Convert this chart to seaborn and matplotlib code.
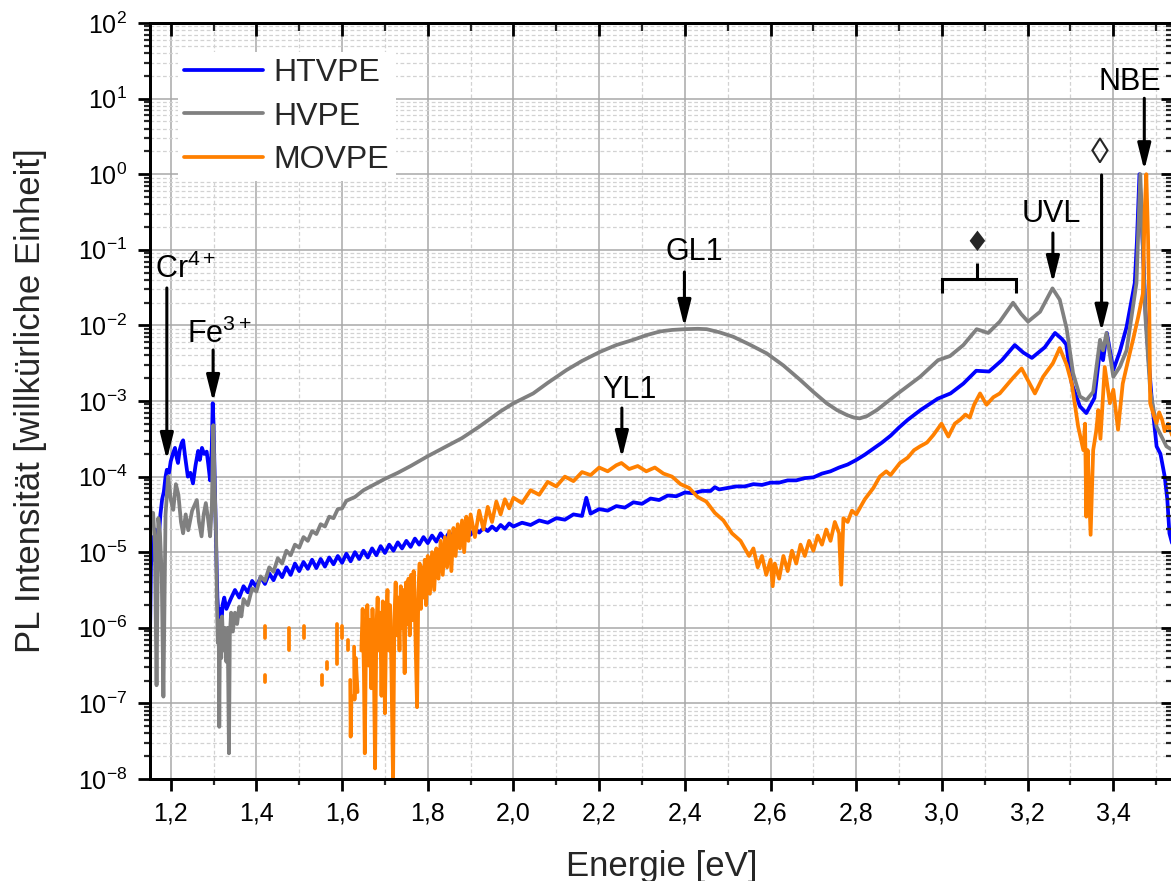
import numpy as np
import pandas as pd
import seaborn as sns
import matplotlib
matplotlib.use("Agg")
import matplotlib.pyplot as plt
from matplotlib.ticker import MultipleLocator, LogLocator, FuncFormatter, NullFormatter
from matplotlib.lines import Line2D

##  Theme first, fonts after (set_theme resets font.family)
sns.set_theme(style="ticks")
plt.rcParams['font.family'] = ['Liberation Sans', 'DejaVu Sans']
plt.rcParams['mathtext.fontset'] = 'custom'
plt.rcParams['mathtext.rm'] = 'Liberation Sans'
plt.rcParams['mathtext.it'] = 'Liberation Sans:italic'
plt.rcParams['mathtext.default'] = 'regular'

#%%
##  Data (energy in eV, log10 of PL intensity)

#  HTVPE (blue)
htvpe_e = [1.150, 1.152, 1.154, 1.157, 1.160, 1.164, 1.168, 1.172, 1.176, 1.180,
           1.184, 1.188, 1.191, 1.196, 1.200, 1.205, 1.210, 1.214, 1.217, 1.221,
           1.226, 1.229, 1.234, 1.240, 1.246, 1.252, 1.258, 1.264, 1.268, 1.273,
           1.278, 1.284, 1.288, 1.292, 1.296, 1.298, 1.300, 1.303, 1.306, 1.309,
           1.312, 1.315, 1.318, 1.321, 1.325, 1.330,
           1.34, 1.35, 1.36, 1.37, 1.38, 1.39, 1.40, 1.41, 1.42, 1.43,
           1.44, 1.45, 1.46, 1.47, 1.48, 1.49, 1.50, 1.51, 1.52, 1.53,
           1.54, 1.55, 1.56, 1.57, 1.58, 1.59, 1.60, 1.61, 1.62, 1.63,
           1.64, 1.65, 1.66, 1.67, 1.68, 1.69, 1.70, 1.71, 1.72, 1.73,
           1.74, 1.75, 1.76, 1.77, 1.78, 1.79, 1.80, 1.81, 1.82, 1.83,
           1.84, 1.85, 1.86, 1.87, 1.88, 1.89, 1.90, 1.91, 1.92, 1.93,
           1.94, 1.95, 1.96, 1.97, 1.98, 1.99, 2.00,
           2.02, 2.04, 2.06, 2.08, 2.10, 2.12, 2.14, 2.16, 2.17, 2.18,
           2.20, 2.22, 2.24, 2.26, 2.28, 2.30, 2.32, 2.34, 2.36, 2.38,
           2.40, 2.42, 2.44, 2.46, 2.47, 2.48, 2.50, 2.52, 2.54, 2.56,
           2.58, 2.60, 2.62, 2.64, 2.66, 2.68, 2.70, 2.72, 2.74, 2.76,
           2.78, 2.80, 2.82, 2.84, 2.86, 2.88, 2.90, 2.92, 2.95, 2.99,
           3.02, 3.05, 3.08, 3.11, 3.14, 3.17, 3.19, 3.21, 3.24, 3.264,
           3.28, 3.29, 3.303, 3.322, 3.337, 3.356, 3.369, 3.376, 3.385, 3.400,
           3.415, 3.431, 3.450, 3.455, 3.461, 3.467, 3.475, 3.483, 3.490, 3.501,
           3.510, 3.520, 3.526, 3.531, 3.538]
htvpe_log = [-5.40, -6.00, -5.20, -4.80, -5.10, -4.70, -4.90, -4.84, -4.50, -4.30,
             -4.20, -4.00, -3.91, -3.95, -3.80, -3.70, -3.62, -3.75, -3.82, -3.65,
             -3.55, -3.52, -3.75, -4.00, -3.95, -4.09, -3.85, -3.66, -3.78, -3.62,
             -3.70, -3.67, -3.85, -4.05, -3.60, -3.03, -3.30, -4.09, -4.90, -5.60,
             -5.90, -5.75, -6.00, -5.70, -5.60, -5.75,
             -5.62, -5.50, -5.60, -5.45, -5.53, -5.38, -5.46, -5.33, -5.42, -5.28,
             -5.37, -5.24, -5.33, -5.20, -5.30, -5.15, -5.25, -5.13, -5.22, -5.10,
             -5.21, -5.09, -5.19, -5.07, -5.16, -5.05, -5.14, -5.02, -5.12, -5.00,
             -5.09, -4.98, -5.07, -4.95, -5.04, -4.92, -5.01, -4.90, -4.98, -4.87,
             -4.95, -4.85, -4.93, -4.82, -4.90, -4.80, -4.88, -4.78, -4.86, -4.75,
             -4.83, -4.74, -4.81, -4.72, -4.79, -4.70, -4.77, -4.69, -4.74, -4.68,
             -4.72, -4.66, -4.71, -4.64, -4.69, -4.62, -4.66,
             -4.61, -4.64, -4.58, -4.61, -4.55, -4.57, -4.50, -4.52, -4.28, -4.49,
             -4.43, -4.45, -4.39, -4.41, -4.34, -4.36, -4.29, -4.31, -4.25, -4.26,
             -4.21, -4.22, -4.19, -4.19, -4.14, -4.17, -4.15, -4.13, -4.13, -4.10,
             -4.11, -4.08, -4.08, -4.05, -4.05, -4.02, -4.01, -3.96, -3.93, -3.88,
             -3.84, -3.78, -3.71, -3.63, -3.55, -3.46, -3.35, -3.25, -3.12, -2.97,
             -2.90, -2.77, -2.60, -2.61, -2.46, -2.26, -2.36, -2.43, -2.29, -2.10,
             -2.18, -2.25, -2.77, -3.07, -3.16, -2.96, -2.32, -2.46, -2.10, -2.59,
             -2.35, -2.02, -1.44, -0.90, 0.00, -0.70, -1.80, -2.50, -3.00, -3.60,
             -3.70, -4.00, -4.30, -4.75, -4.90]

#  HVPE (grey)
hvpe_e = [1.150, 1.155, 1.159, 1.163, 1.167, 1.171, 1.175, 1.179, 1.183, 1.188,
          1.194, 1.200, 1.206, 1.212, 1.218, 1.224, 1.229, 1.235, 1.241, 1.250,
          1.261, 1.266, 1.272, 1.277, 1.282, 1.287, 1.292, 1.296, 1.2995, 1.303,
          1.306, 1.308, 1.310, 1.312, 1.3134, 1.315, 1.318, 1.320, 1.323, 1.326,
          1.330, 1.333, 1.336, 1.338, 1.341, 1.345,
          1.35, 1.355, 1.36, 1.365, 1.37, 1.38, 1.39, 1.40, 1.41, 1.42,
          1.43, 1.44, 1.45, 1.46, 1.47, 1.48, 1.49, 1.50, 1.51, 1.52,
          1.53, 1.54, 1.55, 1.56, 1.57, 1.58, 1.59, 1.60, 1.61, 1.63,
          1.65, 1.68, 1.70, 1.73, 1.76, 1.80, 1.84, 1.88, 1.92, 1.969,
          2.00, 2.046, 2.08, 2.124, 2.16, 2.202, 2.24, 2.28, 2.31, 2.342,
          2.37, 2.40, 2.43, 2.451, 2.48, 2.513, 2.55, 2.591, 2.63, 2.669,
          2.70, 2.731, 2.755, 2.778, 2.795, 2.808, 2.825, 2.848, 2.875, 2.902,
          2.949, 2.991, 3.019, 3.050, 3.081, 3.108, 3.135, 3.166, 3.185, 3.201,
          3.229, 3.258, 3.275, 3.291, 3.306, 3.322, 3.337, 3.353, 3.369, 3.376,
          3.384, 3.400, 3.415, 3.431, 3.446, 3.454, 3.458, 3.463, 3.468, 3.475,
          3.486, 3.501, 3.515, 3.524, 3.538]
hvpe_log = [-4.22, -4.60, -4.48, -4.90, -6.76, -4.55, -4.75, -5.30, -6.91, -4.50,
            -4.00, -4.30, -4.44, -4.10, -4.24, -4.60, -4.75, -4.50, -4.71, -4.45,
            -4.31, -4.60, -4.79, -4.50, -4.35, -4.55, -4.79, -4.40, -3.32, -4.20,
            -4.79, -5.70, -6.20, -5.90, -7.31, -6.00, -6.40, -5.85, -6.30, -6.00,
            -6.45, -6.00, -7.66, -6.10, -5.80, -6.05,
            -5.80, -5.95, -5.72, -5.85, -5.62, -5.70, -5.48, -5.52, -5.32, -5.38,
            -5.20, -5.26, -5.08, -5.15, -4.98, -5.04, -4.90, -4.94, -4.80, -4.85,
            -4.72, -4.76, -4.63, -4.66, -4.53, -4.55, -4.43, -4.42, -4.32, -4.27,
            -4.18, -4.09, -4.03, -3.95, -3.86, -3.73, -3.61, -3.49, -3.34, -3.14,
            -3.03, -2.90, -2.76, -2.59, -2.47, -2.35, -2.26, -2.19, -2.13, -2.08,
            -2.06, -2.05, -2.045, -2.05, -2.09, -2.15, -2.25, -2.37, -2.53, -2.72,
            -2.88, -3.03, -3.12, -3.185, -3.22, -3.23, -3.20, -3.12, -3.00, -2.88,
            -2.68, -2.46, -2.405, -2.26, -2.05, -2.10, -1.95, -1.70, -1.85, -1.95,
            -1.82, -1.51, -1.66, -2.04, -2.63, -2.94, -2.99, -2.88, -2.19, -2.33,
            -2.10, -2.68, -2.55, -2.33, -1.75, -1.44, -0.80, 0.00, -0.80, -1.90,
            -2.85, -3.34, -3.50, -3.60, -3.65]

#  MOVPE (orange); nan separates pieces (negative counts are missing on log axis)
movpe_e = [1.420, 1.420, np.nan, 1.421, 1.421, np.nan, 1.476, 1.476, np.nan,
           1.511, 1.511, np.nan, 1.553, 1.553, np.nan, 1.565, 1.565, np.nan,
           1.588, 1.588, np.nan, 1.600, 1.600, np.nan, 1.614, 1.614, np.nan,
           1.619, 1.620, 1.622, np.nan, 1.628, 1.629, 1.632, 1.636, np.nan,
           1.645, 1.648, 1.651, 1.653, 1.656, 1.659, 1.662, 1.665, 1.668, 1.671,
           1.674, 1.677, 1.680, 1.683, 1.686, 1.689, 1.692, 1.695, 1.698, 1.700,
           1.703, 1.706, 1.709, 1.712, 1.715, 1.719, 1.722, 1.725, 1.728, 1.731,
           1.734, 1.737, 1.740, 1.743, 1.746, 1.749, 1.752, 1.755, 1.758, 1.761,
           1.764, 1.767, 1.770, 1.775, 1.778, 1.781, 1.784, 1.787, 1.790, 1.793,
           1.796, 1.800, 1.805, 1.810, 1.815, 1.820, 1.825, 1.830, 1.835, 1.840,
           1.845, 1.850, 1.855, 1.860, 1.865, 1.870, 1.875, 1.880, 1.885, 1.890,
           1.895, 1.90, 1.91, 1.92, 1.93, 1.94, 1.95, 1.96, 1.97, 1.98,
           1.99, 2.00, 2.02, 2.04, 2.06, 2.08, 2.10, 2.12, 2.14, 2.16,
           2.18, 2.20, 2.22, 2.24, 2.252, 2.27, 2.29, 2.31, 2.33, 2.35,
           2.37, 2.39, 2.41, 2.43, 2.45, 2.47, 2.49, 2.51, 2.53, 2.55,
           2.56, 2.57, 2.58, 2.59, 2.60, 2.605, 2.61, 2.62, 2.63, 2.64,
           2.65, 2.66, 2.67, 2.68, 2.69, 2.70, 2.71, 2.72, 2.73, 2.74,
           2.75, 2.76, 2.765, 2.77, 2.78, 2.79, 2.80, 2.82, 2.84, 2.855,
           2.87, 2.88, 2.902, 2.92, 2.935, 2.949, 2.965, 2.980, 2.999, 3.015,
           3.030, 3.042, 3.055, 3.065, 3.075, 3.089, 3.104, 3.120, 3.135, 3.150,
           3.165, 3.186, 3.200, 3.217, 3.236, 3.259, 3.275, 3.291, 3.303, 3.318,
           3.330, 3.334, 3.337, 3.340, 3.347, 3.353, 3.360, 3.365, 3.370, 3.380,
           3.392, 3.400, 3.411, 3.422, 3.435, 3.446, 3.458, 3.469, 3.473, 3.477,
           3.481, 3.484, 3.486, 3.495, 3.501, 3.507, 3.514, 3.520, 3.528, 3.538]
movpe_log = [-5.97, -6.14, np.nan, -6.62, -6.72, np.nan, -6.00, -6.29, np.nan,
             -5.97, -6.13, np.nan, -6.62, -6.75, np.nan, -6.45, -6.55, np.nan,
             -5.95, -6.48, np.nan, -5.97, -6.13, np.nan, -6.16, -6.29, np.nan,
             -6.69, -7.44, -6.90, np.nan, -6.25, -6.95, -6.40, -6.85, np.nan,
             -6.30, -5.75, -6.60, -7.66, -6.10, -5.70, -6.50, -5.90, -6.80, -5.75,
             -6.40, -7.86, -6.00, -5.60, -6.30, -5.80, -6.90, -5.65, -6.20, -7.13,
             -5.90, -5.50, -6.30, -5.70, -6.50, -8.05, -5.90, -5.40, -6.10, -5.60,
             -6.30, -5.45, -6.00, -5.50, -6.60, -5.40, -5.95, -5.35, -6.10, -5.30,
             -5.90, -5.25, -5.80, -7.05, -5.50, -5.15, -5.75, -5.20, -5.60, -5.10,
             -5.70, -5.05, -5.55, -5.00, -5.50, -4.95, -5.35, -4.85, -5.30, -4.80,
             -5.20, -4.72, -5.25, -4.68, -5.05, -4.63, -4.95, -4.58, -5.00, -4.53,
             -4.85, -4.50, -4.80, -4.45, -4.70, -4.40, -4.60, -4.33, -4.50, -4.30,
             -4.42, -4.28, -4.35, -4.18, -4.24, -4.07, -4.13, -4.00, -4.06, -3.94,
             -3.98, -3.88, -3.93, -3.85, -3.82, -3.90, -3.86, -3.93, -3.88, -3.96,
             -4.00, -4.10, -4.15, -4.27, -4.33, -4.48, -4.58, -4.75, -4.85, -5.05,
             -4.95, -5.20, -5.05, -5.30, -5.10, -5.45, -5.15, -5.35, -5.05, -5.25,
             -4.98, -5.15, -4.90, -5.05, -4.85, -4.98, -4.78, -4.90, -4.70, -4.85,
             -4.60, -4.75, -5.43, -4.55, -4.60, -4.45, -4.50, -4.30, -4.15, -4.00,
             -3.93, -3.98, -3.82, -3.75, -3.65, -3.60, -3.55, -3.45, -3.30, -3.47,
             -3.30, -3.25, -3.18, -3.22, -3.05, -2.90, -3.05, -2.95, -2.90, -2.80,
             -2.70, -2.57, -2.72, -2.90, -2.68, -2.50, -2.30, -2.52, -2.77, -3.34,
             -3.65, -3.30, -4.53, -3.65, -4.77, -3.65, -3.40, -3.12, -3.50, -2.55,
             -3.03, -2.85, -3.38, -2.77, -2.45, -2.19, -1.89, -1.58, -0.50, 0.00,
             -0.82, -1.80, -3.03, -3.20, -3.29, -3.15, -3.25, -3.40, -3.30, -3.47]

samples = ['HTVPE', 'HVPE', 'MOVPE']
colors = {'HTVPE': '#0000ff', 'HVPE': '#808080', 'MOVPE': '#ff8000'}


#%%
##  Build long-form table
def to_frame(e, lg, name):
    df = pd.DataFrame({'E': e, 'lg': lg})
    df['seg'] = df['lg'].isna().cumsum()
    df = df.dropna()
    df['I'] = 10.0 ** df['lg']
    df['sample'] = name
    return df

spectra = {'HTVPE': to_frame(htvpe_e, htvpe_log, 'HTVPE'),
           'HVPE': to_frame(hvpe_e, hvpe_log, 'HVPE'),
           'MOVPE': to_frame(movpe_e, movpe_log, 'MOVPE')}

XLIM = (1.1517, 3.540)
YLIM = (1e-8, 1e2)
LW = 2.7


#%%
##  Figure
fig = plt.figure(figsize=(11.71, 8.81), dpi=100)
ax = fig.add_axes([150 / 1171, 1 - 779 / 881, (1173.3 - 150) / 1171, 756 / 881])
ax.set_yscale('log')
ax.set_xlim(*XLIM)
ax.set_ylim(*YLIM)
ax.set_axisbelow(True)

for name in samples:
    sns.lineplot(data=spectra[name], x='E', y='I', units='seg', estimator=None,
                 sort=False, color=colors[name], linewidth=LW, ax=ax, legend=False)

#  Grid
ax.grid(True, which='major', color='#a8a8a8', lw=1.1, ls='-')
ax.grid(True, which='minor', color='#d2d2d2', lw=0.9, ls=(0, (3, 2)))

#  Ticks
ax.xaxis.set_major_locator(MultipleLocator(0.2))
ax.xaxis.set_minor_locator(MultipleLocator(0.1))
ax.xaxis.set_major_formatter(FuncFormatter(lambda v, p: f'{v:.1f}'.replace('.', ',')))
ax.yaxis.set_major_locator(LogLocator(base=10, numticks=20))
ax.yaxis.set_minor_locator(LogLocator(base=10, subs=np.arange(2, 10), numticks=20))
ax.yaxis.set_major_formatter(FuncFormatter(lambda v, p: r'$10^{%d}$' % round(np.log10(v))))
ax.yaxis.set_minor_formatter(NullFormatter())
ax.tick_params(which='major', direction='out', length=8.5, width=2, labelsize=18,
               colors='black', pad=8)
ax.tick_params(which='minor', direction='out', length=4.5, width=1.6)
for sp in ax.spines.values():
    sp.set_linewidth(2)
    sp.set_color('black')

#  Mirrored axes with inward ticks (twins)
axt = ax.twiny()
axt.set_xlim(*XLIM)
axt.xaxis.set_major_locator(MultipleLocator(0.2))
axt.xaxis.set_minor_locator(MultipleLocator(0.1))
axt.tick_params(which='major', direction='in', length=9, width=2, top=True,
                bottom=False, labeltop=False, labelbottom=False, colors='black')
axt.tick_params(which='minor', direction='in', length=5.5, width=1.6, top=True, bottom=False)

axr = ax.twinx()
axr.set_yscale('log')
axr.set_ylim(*YLIM)
axr.yaxis.set_major_locator(LogLocator(base=10, numticks=20))
axr.yaxis.set_minor_locator(LogLocator(base=10, subs=np.arange(2, 10), numticks=20))
axr.yaxis.set_minor_formatter(NullFormatter())
axr.tick_params(which='major', direction='in', length=9, width=2, right=True,
                left=False, labelright=False, labelleft=False, colors='black')
axr.tick_params(which='minor', direction='in', length=5, width=1.6, right=True, left=False)
for a in (axt, axr):
    for sp in a.spines.values():
        sp.set_linewidth(2)
        sp.set_color('black')

#  Axis labels
ax.set_xlabel('Energie [eV]', fontsize=25)
ax.set_ylabel('PL Intensität [willkürliche Einheit]', fontsize=25)
ax.xaxis.set_label_coords(0.5, -0.094)
ax.yaxis.set_label_coords(-0.1007, 0.5)

#  Legend (on the top twin so it stays above the grid)
handles = [Line2D([], [], color=colors[n], lw=LW) for n in samples]
leg = axr.legend(handles, samples, loc='upper left', bbox_to_anchor=(0.0274, 0.962),
                 bbox_transform=ax.transAxes, borderaxespad=0, borderpad=0.2,
                 fontsize=23, handlelength=2.45, handletextpad=0.35, labelspacing=0.42,
                 frameon=True, fancybox=False)
leg.get_frame().set_facecolor('white')
leg.get_frame().set_edgecolor('none')
leg.get_frame().set_alpha(1)


#%%
##  Peak labels and arrows
def arrow(x, lg_from, lg_to):
    ax.annotate('', xy=(x, 10 ** lg_to), xytext=(x, 10 ** lg_from),
                arrowprops=dict(arrowstyle='-|>,head_length=1.6,head_width=0.4',
                                mutation_scale=10, color='black', lw=2.2,
                                shrinkA=0, shrinkB=0))

lab = dict(fontsize=22, color='black')
ax.text(1.163, 10 ** -1.373, 'Cr$^{4+}$', ha='left', va='baseline', **lab)
arrow(1.191, -1.505, -3.78)
ax.text(1.2373, 10 ** -2.237, 'Fe$^{3+}$', ha='left', va='baseline', **lab)
arrow(1.299, -2.325, -3.013)
ax.text(2.4217, 10 ** -1.135, 'GL1', ha='center', va='baseline', **lab)
arrow(2.399, -1.294, -2.02)
ax.text(2.270, 10 ** -2.956, 'YL1', ha='center', va='baseline', **lab)
arrow(2.253, -3.093, -3.754)
ax.text(3.256, 10 ** -0.628, 'UVL', ha='center', va='baseline', **lab)
arrow(3.259, -0.778, -1.439)
ax.text(3.438, 10 ** 1.114, 'NBE', ha='center', va='baseline', **lab)
arrow(3.4723, 1.004, 0.053)
ax.text(3.369, 10 ** 0.28, '\u25ca', ha='center', va='center', fontsize=26,
        family=['Liberation Sans', 'DejaVu Sans'])
arrow(3.3726, -0.0106, -2.083)

#  Bracket with filled diamond
ax.text(3.081, 10 ** -0.914, '\u2666', ha='center', va='center', fontsize=20,
        family=['DejaVu Sans'])
ax.plot([3.0, 3.0, 3.172, 3.172], [10 ** -1.576, 10 ** -1.386, 10 ** -1.386, 10 ** -1.576],
        color='black', lw=2.2, solid_capstyle='butt', solid_joinstyle='miter')
ax.plot([3.081, 3.081], [10 ** -1.386, 10 ** -1.18], color='black', lw=2.2,
        solid_capstyle='butt')

fig.savefig('out.png', dpi=100)
